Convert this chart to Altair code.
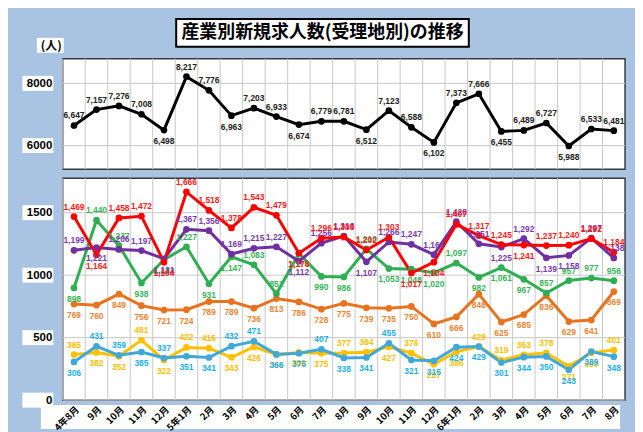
import altair as alt
import pandas as pd

# ---------------- data ----------------
month_labels = ["4年8月", "9月", "10月", "11月", "12月", "5年1月", "2月", "3月", "4月", "5月",
                "6月", "7月", "8月", "9月", "10月", "11月", "12月", "6年1月", "2月", "3月",
                "4月", "5月", "6月", "7月", "8月"]

total = [6647, 7157, 7276, 7008, 6498, 8217, 7776, 6963, 7203, 6933, 6674, 6779, 6781,
         6512, 7123, 6588, 6102, 7373, 7666, 6455, 6489, 6727, 5988, 6533, 6481]
total_pos = "AAAABAABAABAABAABAABAABAA"

s_red = [1469, 1164, 1458, 1472, 1104, 1666, 1518, 1378, 1543, 1479, 1176, 1296, 1305,
         1202, 1303, 1017, 1104, 1407, 1317, 1245, 1241, 1237, 1240, 1292, 1184]
s_purple = [1199, 1221, 1206, 1197, 1131, 1367, 1356, 1169, 1215, 1227, 1112, 1256, 1313,
            1107, 1266, 1247, 1164, 1428, 1251, 1225, 1292, 1139, 1158, 1297, 1138]
s_green = [898, 1440, 1237, 938, 1124, 1227, 931, 1147, 1083, 851, 1174, 990, 986,
           1210, 1053, 1048, 1020, 1097, 982, 1061, 967, 857, 957, 977, 956]
s_orange = [769, 760, 849, 756, 721, 724, 789, 789, 736, 813, 786, 728, 775,
            739, 735, 750, 610, 666, 848, 625, 685, 836, 629, 641, 869]
s_yellow = [365, 382, 352, 481, 322, 422, 416, 343, 426, 366, 382, 375, 377,
            384, 427, 376, 287, 386, 429, 319, 363, 378, 271, 380, 401]
s_blue = [306, 431, 359, 385, 337, 351, 341, 432, 471, 366, 375, 407, 338,
          341, 455, 321, 315, 424, 429, 301, 344, 350, 243, 389, 348]

pos_red = "ABAABAAAAABAAAABBAAABAAAA"
pos_purple = "ABAABAAAAABAABAAAAABABBAA"
pos_green = "BAABBABBAABBBABBBABBBAAAA"
pos_orange = "BBBBBBBBBBBBBBBBBBBBBBBBB"
pos_yellow = "ABBABAABBBBBAABABBAAAABBA"
pos_blue = "BAABABBAABBABBABBBBBBBBBB"

top_ticks = [6000, 8000]
bottom_ticks = [0, 500, 1000, 1500]

series_order = ["orange", "yellow", "blue", "green", "purple", "red"]
series_vals = {"red": s_red, "purple": s_purple, "green": s_green,
               "orange": s_orange, "yellow": s_yellow, "blue": s_blue}
series_pos = {"red": pos_red, "purple": pos_purple, "green": pos_green,
              "orange": pos_orange, "yellow": pos_yellow, "blue": pos_blue}
line_colors = {"red": "#FF0000", "purple": "#7030A0", "green": "#2FAE52",
               "orange": "#E8731E", "yellow": "#FFC000", "blue": "#3FA8D8"}
label_colors = {"red": "#FF1A1A", "purple": "#7A3AAE", "green": "#35B558",
                "orange": "#EE8433", "yellow": "#FFC000", "blue": "#1CB0EE"}

N = len(month_labels)
rows = []
for s in series_order:
    for i, v in enumerate(series_vals[s]):
        rows.append({"i": i, "s": s, "v": v, "pos": series_pos[s][i],
                     "lab": f"{v:,}", "lc": label_colors[s]})
df = pd.DataFrame(rows)
df_total = pd.DataFrame({"i": list(range(N)), "v": total, "pos": list(total_pos),
                         "lab": [f"{v:,}" for v in total]})
df_months = pd.DataFrame({"i": list(range(N))})

# ---------------- styling helpers ----------------
W = 565
H_TOP = 111
H_BOT = 223
GRID = "#C8C8C8"
LABEL_FONT = "Liberation Sans Narrow, Liberation Sans, Arial"
CJK = "Noto Sans CJK JP"
LFS = 8.5

xscale = alt.Scale(type="band", domain=list(range(N)), paddingInner=0, paddingOuter=0)
label_expr = "[" + ",".join("'" + m + "'" for m in month_labels) + "][datum.value]"

bottom_axis = alt.Axis(labelExpr=label_expr, labelAngle=-45, labelFont=CJK,
                       labelFontSize=9.5, labelFontWeight="bold", labelColor="black",
                       domain=False, ticks=False, grid=False, labelPadding=4,
                       title=None, zindex=1)

x_none = alt.X("i:O", scale=xscale, axis=None)
x_bottom = alt.X("i:O", scale=xscale, axis=bottom_axis)


def vgrid(axis):
    return alt.Chart(df_months).mark_rule(color=GRID, strokeWidth=1).encode(
        x=alt.X("i:O", scale=xscale, bandPosition=0, axis=axis))


def hgrid(ticks, yscale):
    return alt.Chart(pd.DataFrame({"v": ticks})).mark_rule(color=GRID, strokeWidth=1).encode(
        y=alt.Y("v:Q", scale=yscale))


def ylab_axis(values, **kw):
    return alt.Axis(values=values, grid=False, domain=False,
                    ticks=False, labelPadding=11, labelFontSize=11.5, labelFontWeight="bold",
                    labelFont="Liberation Sans", labelColor="black", format="d",
                    zindex=2, **kw)


def label_boxes(ticks, yscale):
    # white boxes behind the y-axis tick labels (as in the reference)
    return alt.Chart(pd.DataFrame({"v": ticks})).mark_tick(
        color="white", size=31, thickness=15, opacity=1).encode(
        x=alt.value(-25), y=alt.Y("v:Q", scale=yscale))


# ---------------- top panel (total) ----------------
y_top_scale = alt.Scale(domain=[5240, 8790], nice=False, zero=False)
y_top = alt.Y("v:Q", scale=y_top_scale,
              axis=ylab_axis(top_ticks, title="(人)", titleAngle=0, titleX=-12,
                             titleY=-13, titleAlign="center", titleBaseline="middle",
                             titleFont=CJK, titleFontSize=12, titleFontWeight="bold",
                             titleColor="black"))

tb = alt.Chart(df_total)
top_line = tb.mark_line(color="black", strokeWidth=3).encode(x=x_none, y=y_top)
top_pts = tb.mark_point(filled=True, size=45, color="black", opacity=1).encode(x=x_none, y=y_top)
top_txt_a = tb.transform_filter("datum.pos == 'A'").mark_text(
    dy=-10, fontSize=LFS, font=LABEL_FONT, fontWeight="bold", color="#222").encode(
    x=x_none, y=y_top, text="lab:N")
top_txt_b = tb.transform_filter("datum.pos == 'B'").mark_text(
    dy=11, fontSize=LFS, font=LABEL_FONT, fontWeight="bold", color="#222").encode(
    x=x_none, y=y_top, text="lab:N")

one = alt.Data(values=[{"k": 1}])
anchor = alt.Chart(one).mark_rect(fill="white", opacity=0).encode(
    x=alt.value(-54), x2=alt.value(-53), y=alt.value(-49), y2=alt.value(-48))
unit_box = alt.Chart(one).mark_rect(fill="white").encode(
    x=alt.value(-26), x2=alt.value(1), y=alt.value(-21), y2=alt.value(-6))
title_box = alt.Chart(one).mark_rect(fill="white", stroke="black", strokeWidth=2).encode(
    x=alt.value(114), x2=alt.value(408), y=alt.value(-40), y2=alt.value(-12))
title_txt = alt.Chart(one).mark_text(
    text="産業別新規求人数(受理地別)の推移", font=CJK, fontSize=18, fontWeight="bold",
    color="black", baseline="middle", align="center").encode(
    x=alt.value(261), y=alt.value(-26))

top = alt.layer(vgrid(None), hgrid(top_ticks, y_top_scale),
                label_boxes(top_ticks, y_top_scale), unit_box,
                top_line.encode(y=y_top), top_pts, top_txt_a, top_txt_b,
                title_box, title_txt, anchor).properties(width=W, height=H_TOP)

# ---------------- bottom panel (industries) ----------------
y_bot_scale = alt.Scale(domain=[0, 1776], nice=False, zero=False)
y_bot = alt.Y("v:Q", scale=y_bot_scale, axis=ylab_axis(bottom_ticks, title=None))
color_enc = alt.Color("s:N", scale=alt.Scale(domain=series_order,
                                             range=[line_colors[s] for s in series_order]),
                      legend=None)

bb = alt.Chart(df)
label_band = alt.Chart(one).mark_rect(fill="white").encode(
    x=alt.value(-22), x2=alt.value(560), y=alt.value(228), y2=alt.value(252))
bot_lines = bb.mark_line(strokeWidth=3).encode(x=x_bottom, y=y_bot, color=color_enc)
bot_pts = bb.mark_point(filled=True, size=45, opacity=1).encode(x=x_bottom, y=y_bot, color=color_enc)
bot_txt_a = bb.transform_filter("datum.pos == 'A'").mark_text(
    dy=-10, fontSize=LFS, font=LABEL_FONT, fontWeight="bold").encode(
    x=x_bottom, y=y_bot, text="lab:N", color=alt.Color("lc:N", scale=None))
bot_txt_b = bb.transform_filter("datum.pos == 'B'").mark_text(
    dy=11, fontSize=LFS, font=LABEL_FONT, fontWeight="bold").encode(
    x=x_bottom, y=y_bot, text="lab:N", color=alt.Color("lc:N", scale=None))

bottom = alt.layer(vgrid(bottom_axis), hgrid(bottom_ticks, y_bot_scale),
                   label_boxes(bottom_ticks, y_bot_scale),
                   label_band, bot_lines, bot_pts, bot_txt_a, bot_txt_b).properties(
    width=W, height=H_BOT)

chart = alt.vconcat(top, bottom, spacing=5).properties(
    padding={"left": 0, "top": 0, "right": 8, "bottom": 0},
    background="#A9C3E3",
).configure_view(fill="white", stroke="#3A3A3A", strokeWidth=1.5)

chart.save("out.html", embed_options={"renderer": "svg", "actions": False})
